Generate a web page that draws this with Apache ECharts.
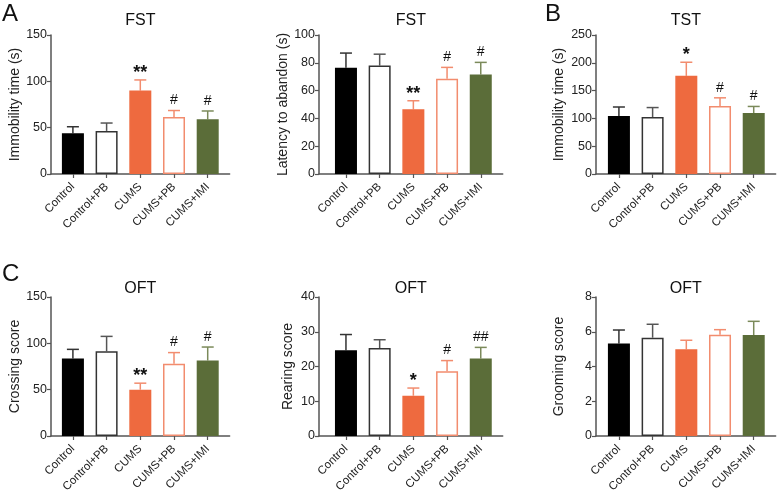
<!DOCTYPE html>
<html>
<head>
<meta charset="utf-8">
<script src="https://cdn.jsdelivr.net/npm/echarts@6/dist/echarts.min.js"></script>
<style>
  html, body { margin: 0; padding: 0; background: #fff; }
  #chart { width: 778px; height: 495px; }
</style>
</head>
<body>
<div id="chart"></div>
<script>
// groups on the x axis
const categories = ["Control", "Control+PB", "CUMS", "CUMS+PB", "CUMS+IMI"];

// FST immobility time (s), mean and error
const fstImmobility = [44, 46.5, 90, 61.5, 59];
const fstImmobilityErr = [7, 8.5, 11.5, 7, 9];
// FST latency to abandon (s)
const fstLatency = [76.5, 78, 46.5, 68.5, 71.5];
const fstLatencyErr = [10.5, 8.2, 6.2, 8.2, 8.8];
// TST immobility time (s)
const tstImmobility = [104.5, 102.5, 176.5, 122.5, 109.5];
const tstImmobilityErr = [16, 17, 24.5, 14.5, 12];
// OFT scores
const oftCrossing = [83.5, 91.5, 50, 78, 81.5];
const oftCrossingErr = [10, 16, 7, 12, 14.5];
const oftRearing = [24.7, 25.3, 11.6, 18.6, 22.3];
const oftRearingErr = [4.5, 2.4, 2.2, 3.1, 3.2];
const oftGrooming = [5.32, 5.66, 4.99, 5.83, 5.81];
const oftGroomingErr = [0.78, 0.77, 0.52, 0.29, 0.79];

// significance marks
const fstImmobilityMarks = ["", "", "**", "#", "#"];
const fstLatencyMarks = ["", "", "**", "#", "#"];
const tstImmobilityMarks = ["", "", "*", "#", "#"];
const oftCrossingMarks = ["", "", "**", "#", "#"];
const oftRearingMarks = ["", "", "*", "#", "##"];
const oftGroomingMarks = ["", "", "", "", ""];

// bar styles per group
const fillColors = ["#000000", "#ffffff", "#ee6a3f", "#ffffff", "#5b6d39"];
const borderColors = ["#000000", "#333333", "#ee6a3f", "#f28c6e", "#5b6d39"];
const errColors = ["#333333", "#555555", "#f28c6e", "#f28c6e", "#7b8a5a"];

const panels = [
  { title: "FST", name: "Immobility time (s)", data: fstImmobility, err: fstImmobilityErr, marks: fstImmobilityMarks,
    max: 150, interval: 50, left: 51, top: 35, min: -0.65, nameGap: 29 },
  { title: "FST", name: "Latency to abandon (s)", data: fstLatency, err: fstLatencyErr, marks: fstLatencyMarks,
    max: 100, interval: 20, left: 319, top: 35, min: -0.8, nameGap: 24 },
  { title: "TST", name: "Immobility time (s)", data: tstImmobility, err: tstImmobilityErr, marks: tstImmobilityMarks,
    max: 250, interval: 50, left: 596, top: 35, min: -0.68, nameGap: 30 },
  { title: "OFT", name: "Crossing score", data: oftCrossing, err: oftCrossingErr, marks: oftCrossingMarks,
    max: 150, interval: 50, left: 51, top: 297, min: -0.65, nameGap: 29 },
  { title: "OFT", name: "Rearing score", data: oftRearing, err: oftRearingErr, marks: oftRearingMarks,
    max: 40, interval: 10, left: 319, top: 297, min: -0.8, nameGap: 24 },
  { title: "OFT", name: "Grooming score", data: oftGrooming, err: oftGroomingErr, marks: oftGroomingMarks,
    max: 8, interval: 2, left: 596, top: 297, min: -0.68, nameGap: 30 },
];

const step = 33.7; // px per category
const xMax = 4.65;
const plotHeight = 139;
const axisColor = "#555";
const textColor = "#222";
const font = "Arial, 'Liberation Sans', Helvetica, sans-serif";

const grid = [], xAxis = [], yAxis = [], series = [];
const title = [
  { text: "A", left: 2, top: 2, padding: 0, textStyle: { fontSize: 24, fontWeight: "normal", color: "#111", fontFamily: font } },
  { text: "B", left: 545, top: 2, padding: 0, textStyle: { fontSize: 24, fontWeight: "normal", color: "#111", fontFamily: font } },
  { text: "C", left: 2, top: 262, padding: 0, textStyle: { fontSize: 24, fontWeight: "normal", color: "#111", fontFamily: font } },
];

panels.forEach((p, i) => {
  const width = (xMax - p.min) * step;
  grid.push({ left: p.left, top: p.top, width: width, height: plotHeight, outerBoundsMode: "none", containLabel: false });
  title.push({
    text: p.title, left: p.left + width / 2, top: p.top - (i < 3 ? 22 : 16), textAlign: "center", padding: 0,
    textStyle: { fontSize: 16, fontWeight: "normal", color: "#111", fontFamily: font },
  });
  xAxis.push({
    type: "value", gridIndex: i, min: p.min, max: xMax,
    axisLine: { show: true, onZero: false, lineStyle: { color: axisColor, width: 1.5 } },
    axisTick: { show: true, customValues: [0, 1, 2, 3, 4], length: 4, lineStyle: { color: axisColor, width: 1.2 } },
    axisLabel: {
      customValues: [0, 1, 2, 3, 4], rotate: 45, margin: 11, fontSize: 11.5, color: textColor, fontFamily: font,
      formatter: (v) => categories[Math.round(v)],
    },
    splitLine: { show: false },
  });
  yAxis.push({
    type: "value", gridIndex: i, min: 0, max: p.max, interval: p.interval,
    name: p.name, nameLocation: "middle", nameGap: p.nameGap,
    nameTextStyle: { fontSize: 14, color: textColor, fontFamily: font },
    axisLine: { show: true, onZero: false, lineStyle: { color: axisColor, width: 1.5 } },
    axisTick: { show: true, length: 4, lineStyle: { color: axisColor, width: 1.2 } },
    axisLabel: { fontSize: 12.5, color: textColor, margin: 4, fontFamily: font },
    splitLine: { show: false },
  });
  // error bars and marks, drawn under the bars
  series.push({
    type: "custom", xAxisIndex: i, yAxisIndex: i, z: 1,
    data: p.data.map((v, j) => [j, v, v + p.err[j]]),
    renderItem: (params, api) => {
      const j = params.dataIndex;
      const base = api.coord([api.value(0), api.value(1)]);
      const tip = api.coord([api.value(0), api.value(2)]);
      const color = errColors[j];
      const children = [
        { type: "line", shape: { x1: base[0], y1: base[1], x2: tip[0], y2: tip[1] }, style: { stroke: color, lineWidth: 1.5 } },
        { type: "line", shape: { x1: tip[0] - 6, y1: tip[1], x2: tip[0] + 6, y2: tip[1] }, style: { stroke: color, lineWidth: 1.5 } },
      ];
      const mark = p.marks[j];
      if (mark) {
        const star = mark.indexOf("*") >= 0;
        children.push({
          type: "text", x: tip[0], y: tip[1] - (star ? -2 : 3),
          style: {
            text: mark, align: "center", verticalAlign: "bottom",
            fontSize: star ? 18 : 14, fontWeight: star ? "bold" : "normal", fill: "#111", fontFamily: font,
          },
        });
      }
      return { type: "group", children: children };
    },
  });
  series.push({
    type: "bar", xAxisIndex: i, yAxisIndex: i, barWidth: 22, z: 2,
    data: p.data.map((v, j) => ({
      value: [j, v],
      itemStyle: { color: fillColors[j], borderColor: borderColors[j], borderWidth: 1.5 },
    })),
  });
});

const chart = echarts.init(document.getElementById("chart"));
chart.setOption({
  animation: false,
  backgroundColor: "#fff",
  title: title,
  grid: grid,
  xAxis: xAxis,
  yAxis: yAxis,
  series: series,
});
</script>
</body>
</html>
